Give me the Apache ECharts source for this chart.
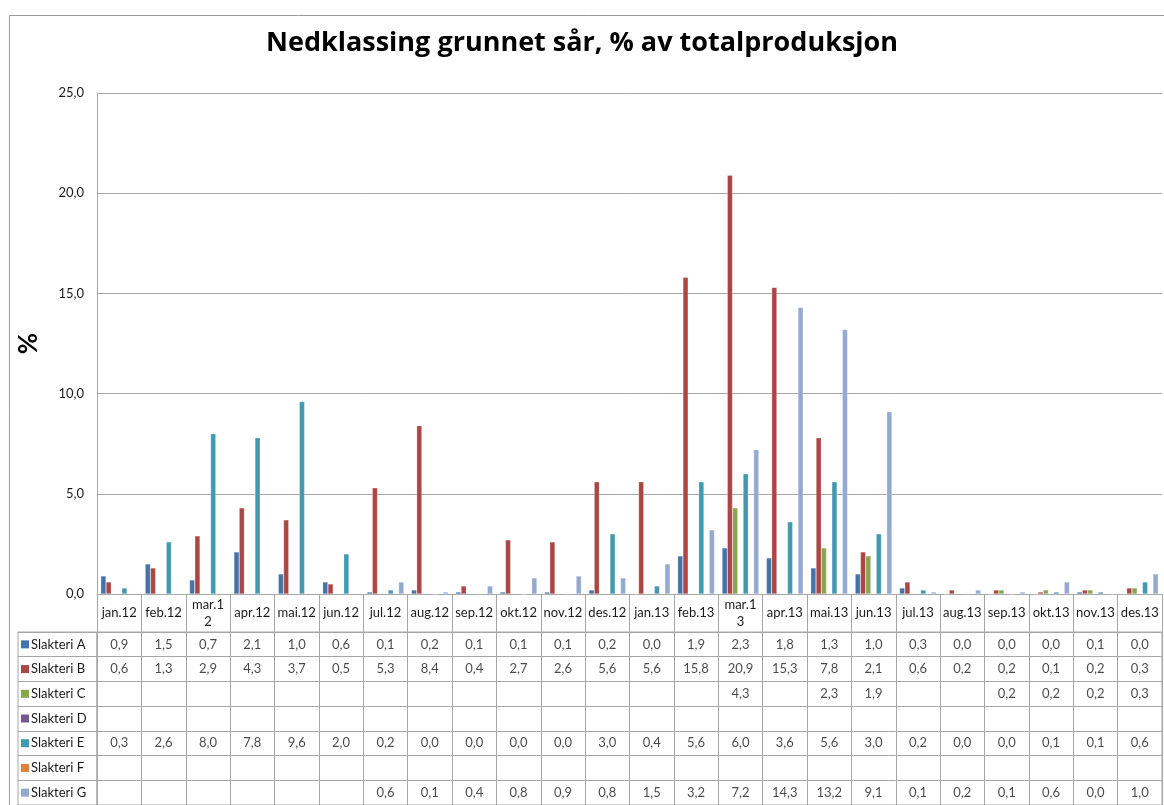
<!DOCTYPE html>
<html><head><meta charset="utf-8">
<script src="https://cdn.jsdelivr.net/npm/echarts@6/dist/echarts.min.js"></script>
<style>html,body{margin:0;padding:0;background:#fff}#c{width:1164px;height:805px}</style>
</head><body><div id="c"></div>
<script>
const months = ['jan.12','feb.12','mar.12','apr.12','mai.12','jun.12','jul.12','aug.12','sep.12','okt.12','nov.12','des.12','jan.13','feb.13','mar.13','apr.13','mai.13','jun.13','jul.13','aug.13','sep.13','okt.13','nov.13','des.13'];
const tickLabels = ['jan.12','feb.12','mar.1\n2','apr.12','mai.12','jun.12','jul.12','aug.12','sep.12','okt.12','nov.12','des.12','jan.13','feb.13','mar.1\n3','apr.13','mai.13','jun.13','jul.13','aug.13','sep.13','okt.13','nov.13','des.13'];
const yTicks = [0,5,10,15,20,25];
const seriesNames = ['Slakteri A','Slakteri B','Slakteri C','Slakteri D','Slakteri E','Slakteri F','Slakteri G'];
const colors = ['#4572A7','#AA4643','#89A54E','#71588F','#4198AF','#DB843D','#93A9CF'];
const _ = null;
const slakteriA = [0.9,1.5,0.7,2.1,1.0,0.6,0.1,0.2,0.1,0.1,0.1,0.2,0.0,1.9,2.3,1.8,1.3,1.0,0.3,0.0,0.0,0.0,0.1,0.0];
const slakteriB = [0.6,1.3,2.9,4.3,3.7,0.5,5.3,8.4,0.4,2.7,2.6,5.6,5.6,15.8,20.9,15.3,7.8,2.1,0.6,0.2,0.2,0.1,0.2,0.3];
const slakteriC = [_,_,_,_,_,_,_,_,_,_,_,_,_,_,4.3,_,2.3,1.9,_,_,0.2,0.2,0.2,0.3];
const slakteriD = [_,_,_,_,_,_,_,_,_,_,_,_,_,_,_,_,_,_,_,_,_,_,_,_];
const slakteriE = [0.3,2.6,8.0,7.8,9.6,2.0,0.2,0.0,0.0,0.0,0.0,3.0,0.4,5.6,6.0,3.6,5.6,3.0,0.2,0.0,0.0,0.1,0.1,0.6];
const slakteriF = [_,_,_,_,_,_,_,_,_,_,_,_,_,_,_,_,_,_,_,_,_,_,_,_];
const slakteriG = [_,_,_,_,_,_,0.6,0.1,0.4,0.8,0.9,0.8,1.5,3.2,7.2,14.3,13.2,9.1,0.1,0.2,0.1,0.6,0.0,1.0];
const allSeries = [slakteriA,slakteriB,slakteriC,slakteriD,slakteriE,slakteriF,slakteriG];

const fmt = v => v.toFixed(1).replace('.', ',');
const FONT = 'Lato';
const lineCol = '#a6a6a6';
const textCol = '#1a1a1a';

const tableCells = [];
allSeries.forEach((arr, r) => arr.forEach((v, i) => { if (v !== null) tableCells.push([i, r, v]); }));

const rich = {};
colors.forEach((c, i) => { rich['s' + i] = { width: 8, height: 8, backgroundColor: c }; });
rich.t = { fontFamily: FONT, fontSize: 13, color: textCol, padding: [0, 0, 0, 2] };

const barSeries = allSeries.map((arr, i) => ({
  name: seriesNames[i], type: 'bar', xAxisIndex: 0, yAxisIndex: 0,
  data: arr.map(v => v === null ? '-' : v),
  itemStyle: { color: colors[i], borderColor: 'rgba(255,255,255,0.5)', borderWidth: 0.5 },
  barGap: '0%', barCategoryGap: '17%', silent: true
}));

const chart = echarts.init(document.getElementById('c'), null, { renderer: 'canvas' });
chart.setOption({
  animation: false,
  backgroundColor: '#fff',
  title: {
    text: 'Nedklassing grunnet sår, % av totalproduksjon',
    left: 'center', top: 25,
    textStyle: { fontFamily: 'Open Sans', fontSize: 27, fontWeight: 'bold', color: '#000' }
  },
  graphic: [{
    type: 'rect', z: -10, silent: true,
    shape: { x: 9.5, y: 15.5, width: 1300, height: 900 },
    style: { fill: 'none', stroke: '#999', lineWidth: 1 }
  }],
  grid: [
    { left: 97, right: 2, top: 93, bottom: 211 },
    { left: 97, right: 2, top: 632, bottom: -4, show: true, borderColor: lineCol, borderWidth: 1, backgroundColor: 'transparent' },
    { left: 18, width: 79, top: 632, bottom: -4, show: true, borderColor: lineCol, borderWidth: 1, backgroundColor: 'transparent' }
  ],
  xAxis: [
    {
      type: 'category', gridIndex: 0, data: months,
      axisLine: { show: true, lineStyle: { color: lineCol } },
      axisTick: { show: true, interval: 0, length: 38, lineStyle: { color: lineCol } },
      axisLabel: {
        interval: 0, margin: 19, verticalAlign: 'middle', lineHeight: 17,
        fontFamily: FONT, fontSize: 13, color: textCol,
        formatter: (v, i) => tickLabels[i]
      },
      splitLine: { show: false }
    },
    {
      type: 'category', gridIndex: 1, data: months,
      axisLine: { show: false }, axisTick: { show: false }, axisLabel: { show: false },
      splitLine: { show: true, interval: 0, lineStyle: { color: lineCol } }
    },
    {
      type: 'category', gridIndex: 2, data: ['legend'],
      axisLine: { show: false }, axisTick: { show: false }, axisLabel: { show: false },
      splitLine: { show: false }
    }
  ],
  yAxis: [
    {
      type: 'value', gridIndex: 0, min: 0, max: 25, interval: 5,
      name: '%', nameLocation: 'middle', nameGap: 55, nameRotate: 90,
      nameTextStyle: { fontFamily: FONT, fontSize: 26, fontWeight: 'bold', color: '#000' },
      axisLine: { show: true, lineStyle: { color: lineCol } },
      axisTick: { show: false },
      axisLabel: { fontFamily: FONT, fontSize: 13, color: textCol, margin: 13,
        formatter: v => yTicks.includes(v) ? fmt(v) : '' },
      splitLine: { show: true, lineStyle: { color: lineCol, width: 1 } }
    },
    {
      type: 'category', gridIndex: 1, data: seriesNames, inverse: true,
      axisLine: { show: false }, axisTick: { show: false }, axisLabel: { show: false },
      splitLine: { show: true, interval: 0, lineStyle: { color: lineCol } }
    },
    {
      type: 'category', gridIndex: 2, data: seriesNames, inverse: true,
      axisLine: { show: false }, axisTick: { show: false },
      axisLabel: {
        show: true, inside: true, margin: 3, align: 'left', interval: 0,
        formatter: (v, i) => '{s' + i + '|}{t|' + v + '}', rich: rich
      },
      splitLine: { show: true, interval: 0, lineStyle: { color: lineCol } }
    }
  ],
  series: barSeries.concat([{
    type: 'scatter', xAxisIndex: 1, yAxisIndex: 1, silent: true,
    data: tableCells, symbolSize: 1, itemStyle: { color: 'rgba(0,0,0,0)' },
    label: { show: true, position: 'inside', fontFamily: FONT, fontSize: 13, color: textCol,
      formatter: p => fmt(p.value[2]) }
  }])
});
</script></body></html>
